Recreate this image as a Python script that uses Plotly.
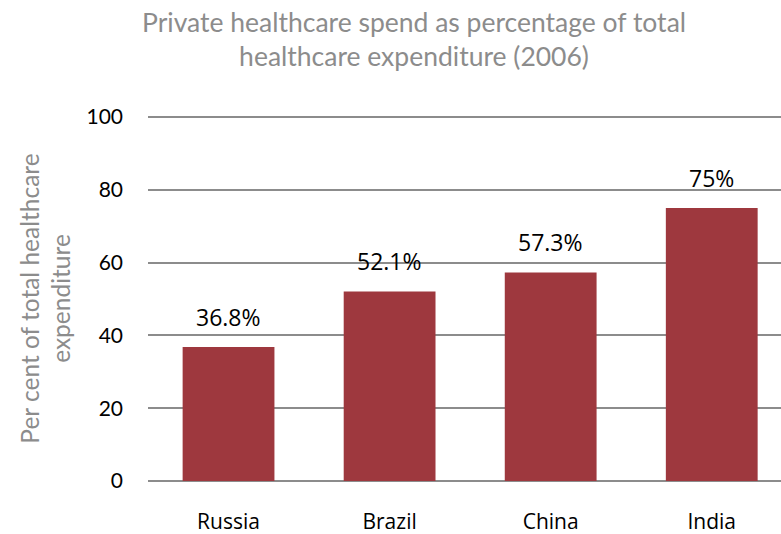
import plotly.graph_objects as go

countries = ["Russia", "Brazil", "China", "India"]
values = [36.8, 52.1, 57.3, 75]
labels = ["36.8%", "52.1%", "57.3%", "75%"]
y_ticks = [0, 20, 40, 60, 80, 100]

fig = go.Figure()
fig.add_trace(go.Bar(
    x=countries, y=values, marker=dict(color="#9E383E", line=dict(width=0)),
    width=0.57, hoverinfo="skip"
))
for c, v, t in zip(countries, values, labels):
    fig.add_annotation(x=c, y=v, text=t, showarrow=False, yanchor="bottom",
                       yshift=12, font=dict(family="Open Sans", size=23, color="#000000"))

fig.add_annotation(
    text="Private healthcare spend as percentage of total<br>healthcare expenditure (2006)",
    xref="paper", yref="paper", x=(414 - 148) / 633, y=1 + (116 - 4) / 365,
    xanchor="center", yanchor="top", showarrow=False,
    font=dict(family="Lato, Open Sans", size=26.5, color="#8C8C8C"))

fig.update_layout(
    width=781, height=534,
    margin=dict(l=148, r=0, t=116, b=53),
    paper_bgcolor="white", plot_bgcolor="white",
    showlegend=False,
    font=dict(family="Lato, Open Sans", color="#000000"),
    xaxis=dict(range=[-0.5, 3.43], showgrid=False, showline=False, zeroline=False,
               ticks="", tickfont=dict(family="Open Sans", size=21, color="#000000"),
               ticklabelstandoff=26),
    yaxis=dict(range=[0, 100.3], tickvals=y_ticks, showgrid=True, gridcolor="#8C8C8C", gridwidth=1.5,
               zeroline=True, zerolinecolor="#8C8C8C", zerolinewidth=1.5, showline=False, ticks="",
               tickfont=dict(family="Lato, Open Sans", size=21, color="#000000"),
               ticklabelstandoff=24,
               title=dict(text="Per cent of total healthcare<br>expenditure", standoff=8,
                          font=dict(family="Lato, Open Sans", size=24.5, color="#8C8C8C"))),
)
fig.write_html("out.html")
